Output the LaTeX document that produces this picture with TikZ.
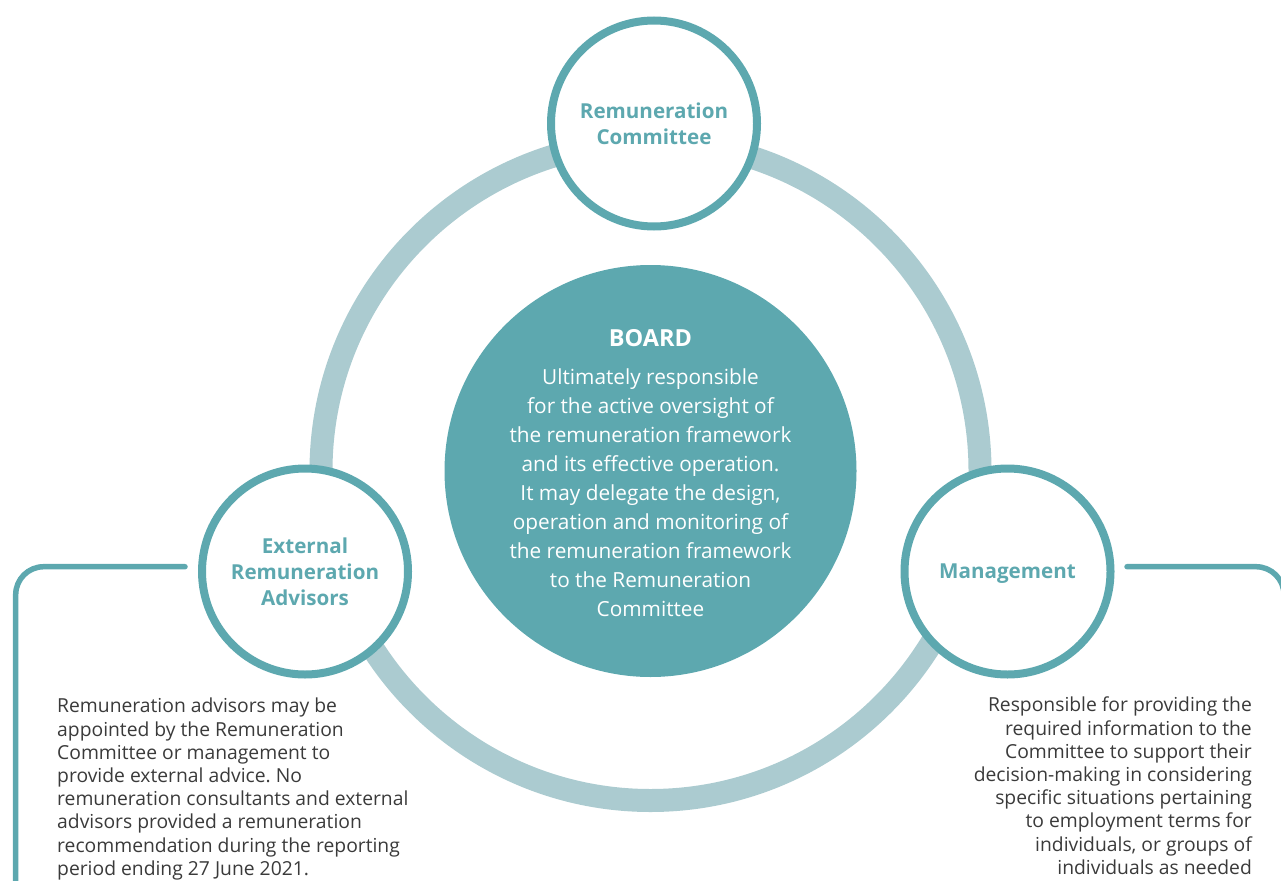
\documentclass[tikz,border=0pt]{standalone}
\usepackage{fontspec}
\setmainfont{Open Sans}
\frenchspacing
\definecolor{tealc}{HTML}{5DA8AF}
\definecolor{ringc}{HTML}{ABCBD0}
\definecolor{txtc}{HTML}{3A3A3A}
\begin{document}
\begin{tikzpicture}[x=1pt,y=-1pt,
 ring/.style={draw=ringc,line width=23pt},
 smallcirc/.style={circle,draw=tealc,line width=8pt,fill=white,minimum size=206pt,inner sep=0pt,text=tealc,font=\bfseries\fontsize{20.6}{26}\selectfont,align=center},
 bigcirc/.style={circle,fill=tealc,minimum size=412pt,inner sep=0pt},
 bracket/.style={draw=tealc,line width=5.5pt,line cap=round,rounded corners=28pt},
 para/.style={text=txtc,font=\fontsize{19.3}{23.2}\selectfont,inner sep=0pt},
 boardtxt/.style={text=white,font=\fontsize{20.8}{29}\selectfont,align=center,inner sep=0pt}]
\useasboundingbox (0,0) rectangle (1281,880);
\draw[ring] (650.5,471) circle (329.5pt);
\node[bigcirc] (board) at (650.5,471) {};
\node[smallcirc] (rc) at (654,123.5) {Remuneration\\Committee};
\node[smallcirc] (era) at (305,571.5) {External\\Remuneration\\Advisors};
\node[smallcirc,text depth=0pt] (mgmt) at (1007.5,571.5) {Management};
\coordinate (la) at (185,566.7);
\coordinate (lc) at (15.7,566.7);
\coordinate (ld) at (15.7,900);
\draw[bracket] (la) -- (lc) -- (ld);
\coordinate (ra) at (1127,566.7);
\coordinate (rc2) at (1284,566.7);
\coordinate (rd) at (1284,900);
\draw[bracket] (ra) -- (rc2) -- (rd);
\node[text=white,font=\bfseries\fontsize{23.5}{26}\selectfont,anchor=base,inner sep=0pt] (bt) at (650.5,346.7) {BOARD};
\node[boardtxt,anchor=north] (bb) at (650.5,368) {Ultimately responsible\\for the active oversight of\\the remuneration framework\\and its effective operation.\\It may delegate the design,\\operation and monitoring of\\the remuneration framework\\to the Remuneration\\Committee};
\node[para,align=left,anchor=north west] (lp) at (57,698) {Remuneration advisors may be\\appointed by the Remuneration\\Committee or management to\\provide external advice. No\\remuneration consultants and external\\advisors provided a remuneration\\recommendation during the reporting\\period ending 27 June 2021.};
\node[para,align=right,anchor=north east] (rp) at (1252,697) {Responsible for providing the\\required information to the\\Committee to support their\\decision-making in considering\\specific situations pertaining\\to employment terms for\\individuals, or groups of\\individuals as needed};
\end{tikzpicture}
\end{document}
